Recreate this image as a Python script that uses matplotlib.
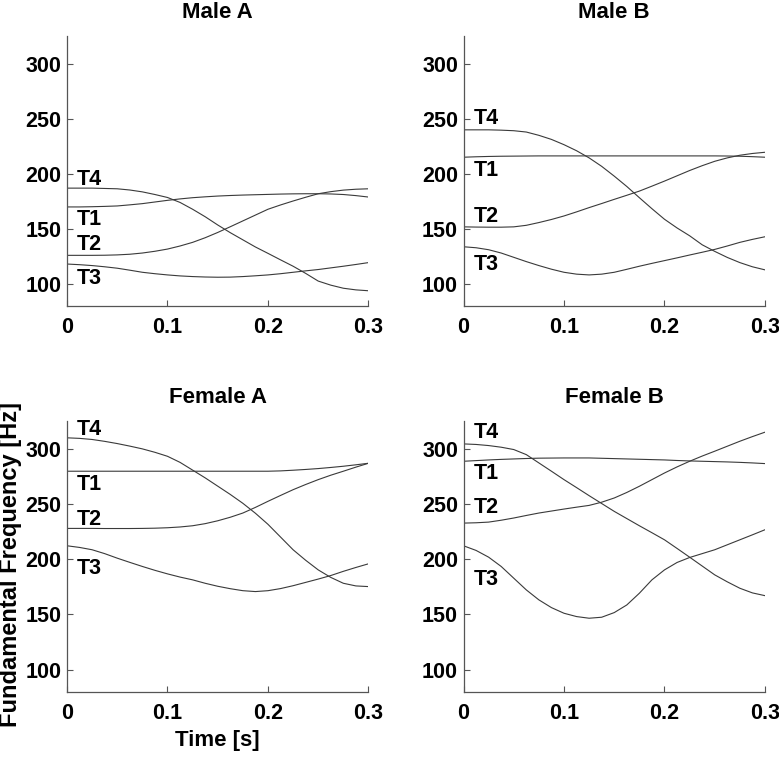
import numpy as np
from matplotlib import pyplot as plt

plt.rcParams['font.family'] = ['Liberation Sans', 'DejaVu Sans']
plt.rcParams['font.weight'] = 'bold'

# time axis [s], sampled every 12.5 ms
t = [0, 0.0125, 0.025, 0.0375, 0.05, 0.0625, 0.075, 0.0875, 0.1, 0.1125, 0.125, 0.1375,
     0.15, 0.1625, 0.175, 0.1875, 0.2, 0.2125, 0.225, 0.2375, 0.25, 0.2625, 0.275, 0.2875, 0.3]
tones = ['T1', 'T2', 'T3', 'T4']
speakers = ['Male A', 'Male B', 'Female A', 'Female B']

# fundamental frequency contours [Hz]
male_a_t1 = [169.9, 169.9, 170.1, 170.4, 170.8, 171.8, 172.9, 174.4, 175.9, 177.2, 178.3, 179.1, 179.8,
             180.3, 180.7, 181.0, 181.3, 181.6, 181.8, 181.9, 181.9, 181.7, 181.2, 180.2, 178.9]
male_a_t2 = [125.9, 125.9, 125.9, 126.0, 126.3, 126.9, 128.0, 129.6, 131.6, 134.4, 137.7, 141.9, 146.7,
             151.9, 157.2, 162.5, 167.8, 171.7, 175.3, 178.7, 181.9, 183.8, 185.2, 186.0, 186.4]
male_a_t3 = [118.0, 117.4, 116.6, 115.5, 114.2, 112.4, 110.5, 109.2, 108.1, 107.2, 106.6, 106.2, 106.0,
             106.1, 106.6, 107.3, 108.1, 109.2, 110.5, 111.8, 113.0, 114.5, 116.0, 117.6, 119.3]
male_a_t4 = [187.0, 187.0, 187.0, 186.7, 186.4, 185.3, 183.6, 181.2, 178.5, 174.0, 167.8, 161.0, 153.5,
             146.5, 140.0, 133.5, 127.7, 121.8, 116.0, 109.5, 102.5, 98.8, 96.0, 94.5, 93.7]

male_b_t1 = [215.1, 215.5, 215.8, 216.0, 216.1, 216.2, 216.3, 216.3, 216.3, 216.3, 216.3, 216.3, 216.3,
             216.3, 216.3, 216.3, 216.3, 216.3, 216.3, 216.3, 216.3, 216.2, 216.0, 215.6, 215.1]
male_b_t2 = [151.8, 151.6, 151.5, 151.5, 151.8, 153.2, 155.7, 158.5, 161.7, 165.4, 169.3, 173.0, 176.8,
             180.5, 184.3, 188.8, 193.4, 198.2, 203.0, 207.4, 211.4, 214.5, 216.9, 218.5, 219.6]
male_b_t3 = [133.7, 132.8, 131.0, 128.0, 124.1, 120.2, 116.6, 113.3, 110.5, 108.8, 108.1, 108.8, 110.5,
             113.2, 116.0, 118.6, 121.1, 123.6, 126.2, 128.7, 131.3, 134.4, 137.7, 140.4, 142.8]
male_b_t4 = [240.0, 240.0, 240.0, 239.7, 239.2, 238.0, 235.0, 231.3, 226.5, 221.0, 214.5, 206.8, 197.9,
             188.5, 178.3, 168.3, 158.7, 150.8, 143.7, 135.5, 129.5, 124.0, 119.3, 115.5, 112.7]

female_a_t1 = [279.5, 279.5, 279.5, 279.5, 279.5, 279.5, 279.5, 279.5, 279.5, 279.5, 279.5, 279.5, 279.5,
               279.5, 279.5, 279.5, 279.5, 279.8, 280.4, 281.1, 281.9, 282.9, 284.0, 285.3, 286.7]
female_a_t2 = [227.8, 227.8, 227.8, 227.7, 227.7, 227.7, 227.8, 228.0, 228.4, 229.1, 230.2, 232.1, 234.7,
               237.9, 241.7, 246.8, 252.3, 257.6, 262.8, 267.5, 271.9, 275.9, 279.5, 283.2, 286.7]
female_a_t3 = [212.1, 210.6, 208.5, 205.0, 200.9, 197.1, 193.4, 189.9, 186.7, 183.8, 181.3, 178.2, 175.5,
               173.3, 171.5, 170.7, 171.5, 173.4, 176.0, 179.0, 182.0, 185.2, 189.0, 192.5, 195.8]
female_a_t4 = [309.7, 309.2, 308.2, 306.5, 304.5, 302.2, 299.7, 296.6, 293.0, 287.5, 280.5, 273.5, 266.0,
               258.5, 250.5, 241.5, 231.5, 220.0, 208.5, 199.0, 190.3, 183.5, 178.2, 175.8, 175.2]

female_b_t1 = [288.5, 289.1, 289.7, 290.2, 290.6, 291.0, 291.3, 291.4, 291.5, 291.5, 291.5, 291.2, 290.9,
               290.6, 290.3, 290.0, 289.7, 289.2, 288.8, 288.5, 288.2, 287.9, 287.5, 287.0, 286.4]
female_b_t2 = [232.6, 232.9, 233.5, 235.2, 237.2, 239.5, 241.7, 243.5, 245.3, 247.0, 248.6, 251.5, 255.3,
               260.3, 265.9, 271.9, 277.9, 283.4, 288.5, 293.2, 297.6, 302.1, 306.6, 310.8, 314.8]
female_b_t3 = [212.1, 207.9, 201.8, 193.4, 182.8, 172.2, 163.2, 156.2, 151.1, 148.1, 146.6, 147.5, 151.7,
               158.6, 169.2, 181.3, 190.3, 197.0, 201.5, 205.0, 208.5, 213.0, 217.5, 222.0, 226.6]
female_b_t4 = [304.2, 303.7, 302.7, 301.2, 299.1, 294.5, 287.0, 279.5, 271.9, 264.7, 257.4, 250.3, 243.2,
               236.7, 230.2, 223.9, 217.5, 209.7, 201.8, 193.8, 185.8, 179.5, 173.7, 169.5, 167.0]

contours = {
    'Male A': [male_a_t1, male_a_t2, male_a_t3, male_a_t4],
    'Male B': [male_b_t1, male_b_t2, male_b_t3, male_b_t4],
    'Female A': [female_a_t1, female_a_t2, female_a_t3, female_a_t4],
    'Female B': [female_b_t1, female_b_t2, female_b_t3, female_b_t4],
}

# where the tone names sit in each panel
label_y = {
    'Male A': [158.6, 136.0, 104.5, 194.7],
    'Male B': [202.9, 161.3, 117.5, 250.2],
    'Female A': [267.4, 235.6, 191.8, 317.2],
    'Female B': [277.0, 247.1, 181.3, 314.2],
}

fig = plt.figure(figsize=(7.79, 7.57), dpi=100)
boxes = [
    [0.086, 0.596, 0.387, 0.356],
    [0.595, 0.596, 0.387, 0.356],
    [0.086, 0.086, 0.387, 0.358],
    [0.595, 0.086, 0.387, 0.358],
]

for name, box in zip(speakers, boxes):
    ax = fig.add_axes(box)
    for tone, f0, ly in zip(tones, contours[name], label_y[name]):
        ax.plot(t, f0, c='#3a3a3a', lw=0.8)
        ax.text(0.01, ly, tone, fontsize=15.5, fontweight='bold', ha='left', va='center')
    ax.set(xlim=(0, 0.3), ylim=(80, 325))
    ax.set_xticks([0, 0.1, 0.2, 0.3])
    ax.set_xticklabels(['0', '0.1', '0.2', '0.3'])
    ax.set_yticks([100, 150, 200, 250, 300])
    ax.tick_params(direction='in', length=4, width=0.8, color='#555555', labelsize=15.5)
    ax.tick_params(axis='x', pad=8)
    ax.tick_params(axis='y', pad=4)
    for lbl in ax.get_xticklabels() + ax.get_yticklabels():
        lbl.set_fontweight('bold')
    ax.spines['top'].set_visible(False)
    ax.spines['right'].set_visible(False)
    for s in ['left', 'bottom']:
        ax.spines[s].set_color('#555555')
        ax.spines[s].set_linewidth(0.9)
    ax.set_title(name, fontsize=16, fontweight='bold', pad=13)
    if name == 'Female A':
        ax.set_ylabel('Fundamental Frequency [Hz]', fontsize=17, fontweight='bold')
        ax.yaxis.set_label_coords(-0.148, 0.47)
        ax.set_xlabel('Time [s]', fontsize=16, fontweight='bold', labelpad=4)

fig.savefig('out.png', dpi=100)
